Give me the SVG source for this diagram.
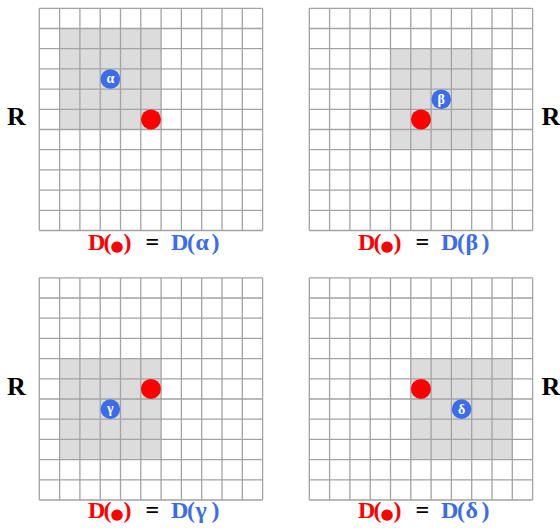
<svg xmlns="http://www.w3.org/2000/svg" xmlns:xlink="http://www.w3.org/1999/xlink" width="560" height="528" viewBox="0 0 560 528">
<style>
.shade{fill:#dcdcdc}
.gl{fill:none;stroke:#a3a3a3;stroke-width:1.3}
.red{fill:#ff0000}
.blue{fill:#3a6cec}
.gk{fill:#ffffff;font-family:"Liberation Serif",serif;font-weight:bold;font-size:14px;text-anchor:middle}
.R{font-family:"Liberation Serif",serif;font-weight:bold;font-size:26px;fill:#000}
.cap{font-family:"Liberation Serif",serif;font-weight:bold;font-size:24px}
.dot{font-family:"DejaVu Sans",sans-serif;font-weight:normal;font-size:15px}
.cr{fill:#ff0000}
.cb{fill:#3a6cec}
.ck{fill:#000}
</style>
<defs>
<path id="grid" class="gl" d="M0,0V222.2M20.3,0V222.2M40.6,0V222.2M60.9,0V222.2M81.2,0V222.2M101.5,0V222.2M121.8,0V222.2M142.1,0V222.2M162.4,0V222.2M182.7,0V222.2M203,0V222.2M223.3,0V222.2M0,0H223.3M0,20.2H223.3M0,40.4H223.3M0,60.6H223.3M0,80.8H223.3M0,101H223.3M0,121.2H223.3M0,141.4H223.3M0,161.6H223.3M0,181.8H223.3M0,202H223.3M0,222.2H223.3"/>
</defs>
<g id="panel-alpha" transform="translate(39.3,8.3)">
<rect class="shade" x="20.3" y="20.2" width="101.5" height="101"/>
<use xlink:href="#grid"/>
<circle class="blue" cx="71.05" cy="70.7" r="9.8"/>
<text class="gk" x="71.05" y="75">α</text>
<circle class="red" cx="111.65" cy="111.1" r="10"/>
</g>
<g id="panel-beta" transform="translate(309.3,8.3)">
<rect class="shade" x="81.2" y="40.4" width="101.5" height="101"/>
<use xlink:href="#grid"/>
<circle class="blue" cx="131.95" cy="90.9" r="9.8"/>
<text class="gk" x="131.95" y="95.5">β</text>
<circle class="red" cx="111.65" cy="111.1" r="10"/>
</g>
<g id="panel-gamma" transform="translate(39.3,277.8)">
<rect class="shade" x="20.3" y="80.8" width="101.5" height="101"/>
<use xlink:href="#grid"/>
<circle class="blue" cx="71.05" cy="131.3" r="9.8"/>
<text class="gk" x="71.05" y="135.6">γ</text>
<circle class="red" cx="111.65" cy="111.1" r="10"/>
</g>
<g id="panel-delta" transform="translate(309.3,277.8)">
<rect class="shade" x="101.5" y="80.8" width="101.5" height="101"/>
<use xlink:href="#grid"/>
<circle class="blue" cx="152.25" cy="131.3" r="9.8"/>
<text class="gk" x="152.25" y="136">δ</text>
<circle class="red" cx="111.65" cy="111.1" r="10"/>
</g>
<g id="labels">
<text class="R" x="7" y="125">R</text>
<text class="R" x="541.5" y="125">R</text>
<text class="R" x="7" y="394.5">R</text>
<text class="R" x="541.5" y="394.5">R</text>
</g>
<g id="captions">
<text class="cap" y="249.5"><tspan class="cr" x="88">D</tspan><tspan class="cr" x="103.5">(</tspan><tspan class="cr dot" x="110.5" dy="1">●</tspan><tspan class="cr" x="123.5" dy="-1">)</tspan><tspan class="ck" x="145.5">=</tspan><tspan class="cb" x="171">D</tspan><tspan class="cb" x="187">(</tspan><tspan class="cb" x="195.5">α</tspan><tspan class="cb" x="211.5">)</tspan></text>
<text class="cap" y="249.5"><tspan class="cr" x="358">D</tspan><tspan class="cr" x="373.5">(</tspan><tspan class="cr dot" x="380.5" dy="1">●</tspan><tspan class="cr" x="393.5" dy="-1">)</tspan><tspan class="ck" x="415.5">=</tspan><tspan class="cb" x="441">D</tspan><tspan class="cb" x="457">(</tspan><tspan class="cb" x="465.5">β</tspan><tspan class="cb" x="481.5">)</tspan></text>
<text class="cap" y="518"><tspan class="cr" x="88">D</tspan><tspan class="cr" x="103.5">(</tspan><tspan class="cr dot" x="110.5" dy="1">●</tspan><tspan class="cr" x="123.5" dy="-1">)</tspan><tspan class="ck" x="145.5">=</tspan><tspan class="cb" x="171">D</tspan><tspan class="cb" x="187">(</tspan><tspan class="cb" x="195.5">γ</tspan><tspan class="cb" x="211.5">)</tspan></text>
<text class="cap" y="518"><tspan class="cr" x="358">D</tspan><tspan class="cr" x="373.5">(</tspan><tspan class="cr dot" x="380.5" dy="1">●</tspan><tspan class="cr" x="393.5" dy="-1">)</tspan><tspan class="ck" x="415.5">=</tspan><tspan class="cb" x="441">D</tspan><tspan class="cb" x="457">(</tspan><tspan class="cb" x="465.5">δ</tspan><tspan class="cb" x="481.5">)</tspan></text>
</g>
</svg>
